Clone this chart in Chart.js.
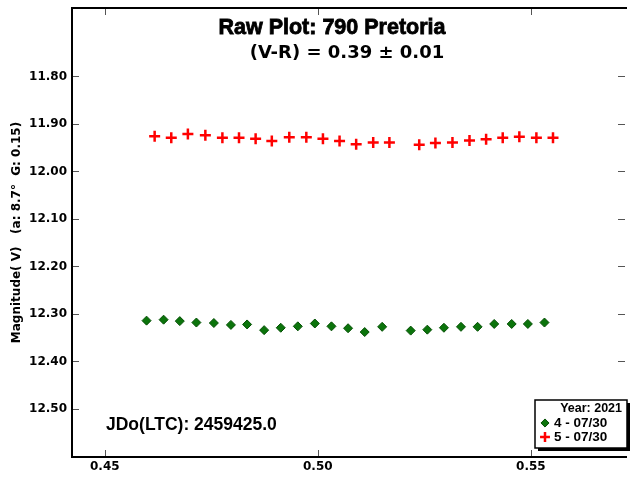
<!DOCTYPE html>
<html>
<head>
<meta charset="utf-8">
<script src="https://cdn.jsdelivr.net/npm/chart.js@4/dist/chart.umd.min.js"></script>
<style>
  html, body { margin: 0; padding: 0; background: #fff; }
  #wrap { width: 633px; height: 477px; }
</style>
</head>
<body>
<div id="wrap"><canvas id="rawPlot" width="633" height="477"></canvas></div>
<script>
// Dados (JD fracionário e magnitude V)
const jdSessao4 = [0.4598, 0.4638, 0.4676, 0.4715, 0.4756, 0.4796, 0.4834, 0.4874, 0.4913, 0.4953, 0.4993, 0.5032, 0.5071, 0.5110, 0.5151,
                   0.5218, 0.5257, 0.5296, 0.5336, 0.5375, 0.5414, 0.5455, 0.5493, 0.5532];
const magSessao4 = [12.314, 12.312, 12.315, 12.318, 12.319, 12.323, 12.322, 12.334, 12.329, 12.326, 12.320, 12.326, 12.330, 12.338, 12.327,
                    12.335, 12.333, 12.329, 12.327, 12.327, 12.321, 12.321, 12.321, 12.318];
const jdSessao5 = [0.4617, 0.4656, 0.4695, 0.4736, 0.4776, 0.4815, 0.4854, 0.4892, 0.4933, 0.4973, 0.5012, 0.5051, 0.5090, 0.5130, 0.5168,
                   0.5238, 0.5276, 0.5316, 0.5356, 0.5395, 0.5434, 0.5473, 0.5513, 0.5552];
const magSessao5 = [11.926, 11.929, 11.921, 11.924, 11.929, 11.929, 11.931, 11.936, 11.928, 11.928, 11.931, 11.936, 11.943, 11.939, 11.939,
                    11.944, 11.940, 11.939, 11.935, 11.932, 11.929, 11.927, 11.929, 11.929];
const legendaSessoes = ['4 - 07/30', '5 - 07/30'];
const ticksX = [0.45, 0.50, 0.55];
const ticksY = [11.80, 11.90, 12.00, 12.10, 12.20, 12.30, 12.40, 12.50];

const fonte = '"Liberation Sans", Arial, sans-serif';
const fonteEixo = '"DejaVu Sans", Verdana, sans-serif';

function pontos(xs, ys) {
    return xs.map((x, i) => ({ x: x, y: ys[i] }));
}

const estiloSessao4 = { pointStyle: 'rectRot', radius: 4.5, backgroundColor: '#0b740b', borderColor: '#055005', borderWidth: 1 };
const estiloSessao5 = { pointStyle: 'cross', radius: 5.5, backgroundColor: '#ff0000', borderColor: '#ff0000', borderWidth: 2.5 };

// Moldura, marcas internas, títulos e legenda
const moldura = {
    id: 'moldura',
    afterDraw(chart) {
        const ctx = chart.ctx;
        const a = chart.chartArea;
        const sx = chart.scales.x, sy = chart.scales.y;
        ctx.save();
        ctx.strokeStyle = '#555';
        ctx.lineWidth = 1;
        ctx.beginPath();
        ticksX.forEach(v => {
            const px = Math.round(sx.getPixelForValue(v)) + 0.5;
            ctx.moveTo(px, a.bottom); ctx.lineTo(px, a.bottom - 7);
            ctx.moveTo(px, a.top); ctx.lineTo(px, a.top + 7);
        });
        ticksY.forEach(v => {
            const py = Math.round(sy.getPixelForValue(v)) + 0.5;
            ctx.moveTo(a.left, py); ctx.lineTo(a.left + 7, py);
            ctx.moveTo(a.right, py); ctx.lineTo(a.right - 7, py);
        });
        ctx.stroke();

        // moldura (lado direito fica fora da imagem)
        ctx.strokeStyle = '#000';
        ctx.lineWidth = 2;
        ctx.beginPath();
        ctx.moveTo(a.right + 2, a.top);
        ctx.lineTo(a.left, a.top);
        ctx.lineTo(a.left, a.bottom);
        ctx.lineTo(a.right + 2, a.bottom);
        ctx.stroke();

        ctx.fillStyle = '#000';
        ctx.strokeStyle = '#000';
        ctx.textAlign = 'center';
        ctx.textBaseline = 'middle';
        ctx.font = 'bold 21.5px ' + fonte;
        ctx.lineWidth = 0.8;
        ctx.fillText('Raw Plot: 790 Pretoria', 332, 28);
        ctx.strokeText('Raw Plot: 790 Pretoria', 332, 28);
        ctx.font = 'bold 18px ' + fonteEixo;
        ctx.fillText('(V-R) = 0.39 \u00b1 0.01', 347, 53);

        ctx.textAlign = 'left';
        ctx.font = 'bold 17.5px ' + fonte;
        ctx.fillText('JDo(LTC): 2459425.0', 106, 425);

        // legenda
        const lx = 535, ly = 400, lw = 92, lh = 48;
        ctx.fillStyle = '#000';
        ctx.fillRect(lx + 3, ly + 3, lw, lh);
        ctx.fillStyle = '#fff';
        ctx.fillRect(lx, ly, lw, lh);
        ctx.lineWidth = 1.5;
        ctx.strokeRect(lx, ly, lw, lh);
        ctx.fillStyle = '#000';
        ctx.font = 'bold 12.5px ' + fonte;
        ctx.textAlign = 'right';
        ctx.fillText('Year: 2021', lx + lw - 5, ly + 9);
        ctx.textAlign = 'left';
        ctx.font = 'bold 13.5px ' + fonte;
        [estiloSessao4, estiloSessao5].forEach((st, i) => {
            const yy = ly + 23 + i * 14;
            ctx.save();
            ctx.fillStyle = st.backgroundColor;
            ctx.strokeStyle = st.borderColor;
            ctx.lineWidth = st.borderWidth;
            Chart.helpers.drawPoint(ctx, { pointStyle: st.pointStyle, radius: st.radius * 0.9, borderWidth: st.borderWidth, rotation: 0 }, lx + 10, yy);
            ctx.restore();
            ctx.fillStyle = '#000';
            ctx.fillText(legendaSessoes[i], lx + 19, yy);
        });
        ctx.restore();
    }
};

const ctxRaw = document.getElementById('rawPlot').getContext('2d');
const rawPlot = new Chart(ctxRaw, {
    type: 'scatter',
    data: {
        datasets: [
            Object.assign({ label: legendaSessoes[0], data: pontos(jdSessao4, magSessao4) }, estiloSessao4),
            Object.assign({ label: legendaSessoes[1], data: pontos(jdSessao5, magSessao5) }, estiloSessao5)
        ]
    },
    options: {
        responsive: false,
        animation: false,
        events: [],
        layout: { padding: { top: 7, right: 0, left: 0, bottom: 0 } },
        plugins: {
            legend: { display: false },
            tooltip: { enabled: false }
        },
        scales: {
            x: {
                type: 'linear',
                min: 0.4423,
                max: 0.5721,
                afterBuildTicks: s => { s.ticks = ticksX.map(v => ({ value: v })); },
                afterFit: s => { s.height = 20; s.paddingLeft = 0; s.paddingRight = 0; },
                grid: { display: false, drawTicks: false },
                border: { display: false },
                ticks: {
                    padding: 3,
                    color: '#000',
                    font: { family: fonteEixo, size: 12, weight: 'bold' },
                    callback: v => Number(v).toFixed(2)
                }
            },
            y: {
                type: 'linear',
                reverse: true,
                min: 11.656,
                max: 12.601,
                afterBuildTicks: s => { s.ticks = ticksY.map(v => ({ value: v })); },
                afterFit: s => { s.width = 72; s.paddingTop = 0; s.paddingBottom = 0; },
                grid: { display: false, drawTicks: false },
                border: { display: false },
                ticks: {
                    padding: 5,
                    color: '#000',
                    font: { family: fonteEixo, size: 12, weight: 'bold' },
                    callback: v => Number(v).toFixed(2)
                },
                title: {
                    display: true,
                    text: 'Magnitude( V)   (a: 8.7\u00b0  G: 0.15)',
                    color: '#000',
                    padding: { top: 10, bottom: 0 },
                    font: { family: fonteEixo, size: 12, weight: 'bold' }
                }
            }
        }
    },
    plugins: [moldura]
});
</script>
</body>
</html>
